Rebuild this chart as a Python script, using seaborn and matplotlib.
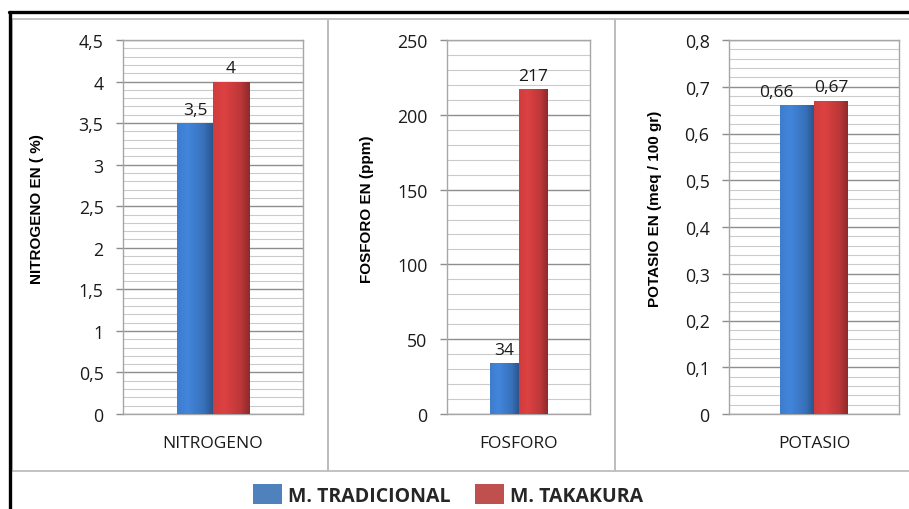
import numpy as np
import pandas as pd
import matplotlib
matplotlib.use("Agg")
import matplotlib.pyplot as plt
import seaborn as sns
from matplotlib.ticker import MultipleLocator, FuncFormatter
from matplotlib.patches import Rectangle
from matplotlib.lines import Line2D
from matplotlib.colors import to_rgb

# --- data -----------------------------------------------------------------
elements = ["NITROGENO", "FOSFORO", "POTASIO"]
methods = ["M. TRADICIONAL", "M. TAKAKURA"]
tradicional = [3.5, 34, 0.66]
takakura = [4, 217, 0.67]
y_titles = ["NITROGENO EN ( %)", "FOSFORO EN (ppm)", "POTASIO EN (meq / 100 gr)"]
y_max = [4.5, 250, 0.8]
y_major = [0.5, 50, 0.1]
y_minor = [0.1, 10, 0.02]

colors = {"M. TRADICIONAL": "#3B77C4", "M. TAKAKURA": "#C63A3B"}
legend_colors = {"M. TRADICIONAL": "#4F81BD", "M. TAKAKURA": "#C0504D"}

df = pd.DataFrame({
    "elemento": np.repeat(elements, 2),
    "metodo": methods * len(elements),
    "valor": [v for pair in zip(tradicional, takakura) for v in pair],
})

sns.set_theme(style="white")
plt.rcParams["font.family"] = ["Open Sans", "DejaVu Sans"]

W, H = 909, 510
fig = plt.figure(figsize=(W / 100, H / 100), dpi=100)
fig.patch.set_facecolor("white")


def px_axes(left, right, top, bottom):
    return fig.add_axes([left / W, 1 - bottom / H, (right - left) / W, (bottom - top) / H])


def comma(v, pos=None):
    return f"{v:g}".replace(".", ",")


# outer frame lines and panel boxes
fig.add_artist(Line2D([9 / W, 1], [1 - 13 / H, 1 - 13 / H], color="black", lw=2.4,
                      transform=fig.transFigure))
fig.add_artist(Line2D([10 / W, 10 / W], [0, 1 - 13 / H], color="black", lw=2.4,
                      transform=fig.transFigure))
for x0, x1 in [(12, 328), (328, 615), (615, 912)]:
    fig.add_artist(Rectangle((x0 / W, 1 - 472 / H), (x1 - x0) / W, (472 - 20) / H,
                             transform=fig.transFigure, fill=False,
                             edgecolor="#BDBDBD", lw=1.3))

axes_px = [(123, 303), (447, 590), (729, 899)]
ylabel_x = [37, 367, 655]


def shade_bar(ax, patch, base):
    """Overlay a horizontal light-to-dark gradient on a bar patch."""
    x0, y0 = patch.get_x(), patch.get_y()
    w, h = patch.get_width(), patch.get_height()
    base = np.array(to_rgb(base))
    t = np.linspace(0, 1, 64)
    f = np.interp(t, [0, 0.3, 0.75, 1.0], [1.05, 1.12, 0.95, 0.72])
    row = np.clip(base[None, :] * f[:, None], 0, 1)
    img = np.repeat(row[None, :, :], 2, axis=0)
    im = ax.imshow(img, extent=[x0, x0 + w, y0, y0 + h], aspect="auto",
                   interpolation="bilinear", zorder=patch.get_zorder() + 0.1)
    im.set_clip_path(patch)


for i, elem in enumerate(elements):
    l, r = axes_px[i]
    ax = px_axes(l, r, 41, 415)
    sub = df[df["elemento"] == elem]
    sns.barplot(data=sub, x="elemento", y="valor", hue="metodo", hue_order=methods,
                palette=colors, width=0.4, saturation=1, ax=ax, legend=False,
                zorder=3)
    ax.set_xlim(-0.5, 0.5)
    ax.set_ylim(0, y_max[i])
    ax.yaxis.set_major_locator(MultipleLocator(y_major[i]))
    ax.yaxis.set_minor_locator(MultipleLocator(y_minor[i]))
    ax.yaxis.set_major_formatter(FuncFormatter(comma))
    ax.set_axisbelow(True)
    ax.grid(which="major", axis="y", color="#8E8E8E", lw=1.0)
    ax.grid(which="minor", axis="y", color="#CACACA", lw=0.8)
    for s in ax.spines.values():
        s.set_color("#A6A6A6")
        s.set_linewidth(1.0)
    ax.tick_params(axis="y", which="major", length=5, width=1, color="#8E8E8E",
                   pad=9, labelsize=12.8, labelcolor="#1A1A1A", direction="out", left=True)
    ax.tick_params(axis="y", which="minor", length=0)
    ax.tick_params(axis="x", length=0, pad=15, labelsize=12.5, labelcolor="#1A1A1A")
    ax.set_xlabel("")
    ax.set_ylabel("")
    fig.text(ylabel_x[i] / W, 1 - 209 / H, y_titles[i], rotation=90, ha="center",
             va="center", fontsize=11, fontweight="bold", color="black",
             family=["Liberation Sans", "DejaVu Sans"])

    labels = []
    for cont, m in zip(ax.containers, methods):
        vals = sub.loc[sub["metodo"] == m, "valor"].tolist()
        labels += ax.bar_label(cont, labels=[comma(v) for v in vals], padding=4,
                               fontsize=12.5, color="#1A1A1A")
        for p in cont.patches:
            p.set_edgecolor("none")
            shade_bar(ax, p, colors[m])
    # keep the two close labels of the last panel from running into each other
    if elem == "POTASIO":
        labels[0].xyann = (-15, labels[0].xyann[1])

# legend
handles = [Rectangle((0, 0), 1, 1, facecolor=legend_colors[m], edgecolor="none")
           for m in methods]
fig.legend(handles, methods, loc="center", bbox_to_anchor=(448 / W, 1 - 496 / H),
           ncol=2, frameon=False, handlelength=1.5, handleheight=1.2,
           handletextpad=0.3, columnspacing=1.3,
           prop={"family": ["Open Sans", "DejaVu Sans"], "weight": "bold", "size": 14})

fig.savefig("out.png", dpi=100, facecolor="white")
